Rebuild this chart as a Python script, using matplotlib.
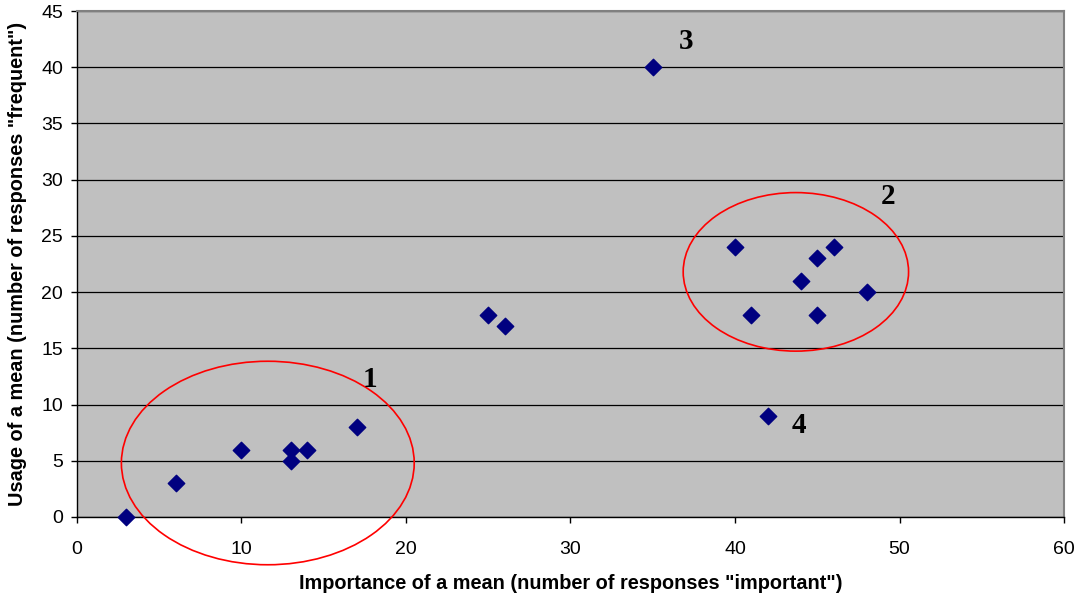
import matplotlib.pyplot as plt
from matplotlib.patches import Ellipse

# importance (x) vs usage (y) of each mean
importance = [3, 6, 10, 13, 13, 14, 17, 25, 26, 35, 40, 41, 44, 45, 45, 46, 48, 42]
usage = [0, 3, 6, 6, 5, 6, 8, 18, 17, 40, 24, 18, 21, 23, 18, 24, 20, 9]

# group labels and their positions in data units
group_labels = ["1", "2", "3", "4"]
label_x = [17.8, 49.3, 37.0, 43.9]
label_y = [12.2, 28.5, 42.3, 8.1]

# cluster ellipses: centre x, centre y, width, height
ellipse_cx = [11.6, 43.7]
ellipse_cy = [4.8, 21.8]
ellipse_w = [17.8, 13.7]
ellipse_h = [18.1, 14.1]

fig = plt.figure(figsize=(10.81, 5.98), dpi=100)
ax = fig.add_axes([0.0712, 0.1355, 0.9131, 0.8461])
ax.set_facecolor("#c0c0c0")

ax.scatter(importance, usage, marker="D", s=70, color="#000080", zorder=3, clip_on=False)

for cx, cy, w, h in zip(ellipse_cx, ellipse_cy, ellipse_w, ellipse_h):
	ax.add_patch(Ellipse((cx, cy), w, h, fill=False, edgecolor="red", lw=1.2, zorder=4, clip_on=False))

for lab, lx, ly in zip(group_labels, label_x, label_y):
	ax.text(lx, ly, lab, ha="center", va="center", fontsize=21, fontweight="bold",
			family="Liberation Serif", zorder=5)

ax.set_xlim(0, 60)
ax.set_ylim(0, 45)
ax.set_xticks(range(0, 61, 10))
ax.set_yticks(range(0, 46, 5))
ax.yaxis.grid(True, color="black", lw=0.9)
ax.set_axisbelow(True)

for side in ["top", "right"]:
	ax.spines[side].set_color("#808080")
	ax.spines[side].set_linewidth(1.5)
for side in ["left", "bottom"]:
	ax.spines[side].set_color("black")
	ax.spines[side].set_linewidth(1.0)

ax.tick_params(direction="out", length=4, width=1, labelsize=14)
ax.tick_params(axis="x", pad=13)
ax.tick_params(axis="y", pad=6)
for lbl in ax.get_xticklabels() + ax.get_yticklabels():
	lbl.set_family("Liberation Sans")

ax.set_xlabel('Importance of a mean (number of responses "important")', fontsize=14.3,
			  fontweight="bold", family="Liberation Sans", labelpad=12)
ax.set_ylabel('Usage of a mean (number of responses "frequent")', fontsize=14.3,
			  fontweight="bold", family="Liberation Sans", labelpad=10)

plt.savefig("out.png")
